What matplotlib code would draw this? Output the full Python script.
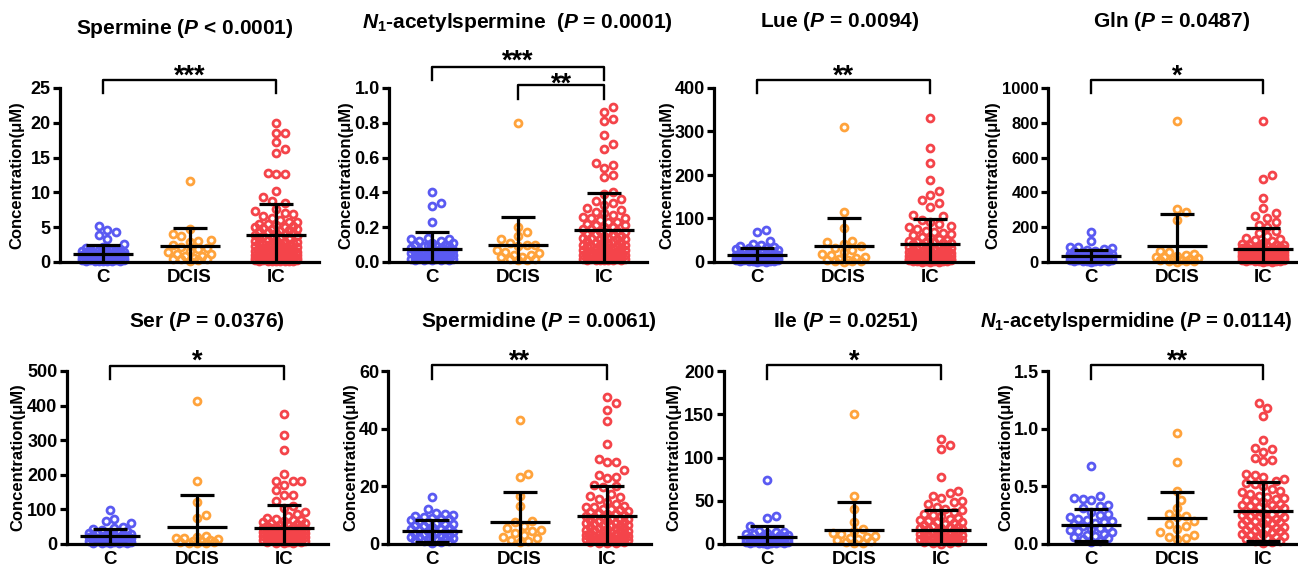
import numpy as np
import matplotlib.pyplot as plt

plt.rcParams['font.family'] = ['Liberation Sans', 'DejaVu Sans']
plt.rcParams['font.weight'] = 'bold'
plt.rcParams['mathtext.fontset'] = 'custom'
plt.rcParams['mathtext.rm'] = 'Liberation Sans:bold'
plt.rcParams['mathtext.it'] = 'Liberation Sans:italic:bold'
plt.rcParams['mathtext.bf'] = 'Liberation Sans:bold'

groups = ['C', 'DCIS', 'IC']
colors = ['#5a5af2', '#ffa33c', '#f4444a']

# ---- Spermine
spm_c = [5.2, 4.6, 4.3, 3.9, 3.3, 2.6, 2.2, 2.0, 1.9, 1.9, 1.8, 1.8, 1.7, 1.7, 1.6, 1.6, 1.5, 1.5, 1.4, 1.4,
         1.3, 1.3, 1.2, 1.2, 1.1, 1.1, 1.0, 1.0, 1.0, 0.9, 0.9, 0.9, 0.8, 0.8, 0.8, 0.7, 0.7, 0.7, 0.6, 0.6,
         0.6, 0.5, 0.5, 0.5, 0.5, 0.4, 0.4, 0.4, 0.4, 0.3, 0.3, 0.3, 0.3, 0.2, 0.2, 0.2, 0.2, 0.1, 0.1, 0.1]
spm_dcis = [11.6, 4.7, 4.0, 3.7, 3.1, 3.0, 2.9, 2.5, 2.2, 2.0, 1.8, 1.6, 1.4, 1.2, 1.1, 0.9, 0.8, 0.6, 0.5,
            0.4, 0.4, 0.3, 0.2]
spm_ic = [20.0, 18.6, 18.5, 17.2, 16.2, 15.7, 12.8, 12.7, 12.7, 10.2, 9.4, 8.7, 8.5, 7.6, 7.3, 7.1, 6.9, 6.6,
          6.3, 6.0, 5.8, 5.7, 5.5, 5.4, 5.3, 5.2, 5.1, 5.0, 4.9, 4.8, 4.7, 4.6, 4.5, 4.4, 4.3, 4.2, 4.1, 4.0,
          3.9, 3.8, 3.7, 3.6, 3.5, 3.4, 3.3, 3.2, 3.1, 3.0, 2.9, 2.9, 2.8, 2.7, 2.7, 2.6, 2.5, 2.5, 2.4, 2.3,
          2.3, 2.2, 2.1, 2.1, 2.0, 1.9, 1.9, 1.8, 1.8, 1.7, 1.7, 1.6, 1.6, 1.5, 1.5, 1.4, 1.4, 1.3, 1.3, 1.2,
          1.2, 1.1, 1.1, 1.0, 1.0, 1.0, 0.9, 0.9, 0.9, 0.8, 0.8, 0.8, 0.7, 0.7, 0.7, 0.6, 0.6, 0.6, 0.5, 0.5,
          0.5, 0.5, 0.4, 0.4, 0.4, 0.4, 0.3, 0.3, 0.3, 0.3, 0.2, 0.2, 0.2, 0.2, 0.1, 0.1, 0.1, 0.1]
spm_mean = [1.1, 2.3, 3.9]
spm_sd = [1.4, 2.6, 4.5]

# ---- N1-acetylspermine
nas_c = [0.40, 0.34, 0.32, 0.23, 0.14, 0.13, 0.13, 0.12, 0.12, 0.11, 0.11, 0.10, 0.10, 0.10, 0.09, 0.09,
         0.09, 0.08, 0.08, 0.08, 0.07, 0.07, 0.07, 0.06, 0.06, 0.06, 0.06, 0.05, 0.05, 0.05, 0.05, 0.04,
         0.04, 0.04, 0.04, 0.04, 0.03, 0.03, 0.03, 0.03, 0.03, 0.02, 0.02, 0.02, 0.02, 0.02, 0.02, 0.01,
         0.01, 0.01, 0.01, 0.01]
nas_dcis = [0.80, 0.20, 0.17, 0.15, 0.13, 0.11, 0.10, 0.10, 0.09, 0.07, 0.06, 0.05, 0.04, 0.04, 0.03, 0.03,
            0.02, 0.02, 0.01, 0.01]
nas_ic = [0.89, 0.86, 0.82, 0.81, 0.73, 0.68, 0.65, 0.57, 0.56, 0.54, 0.50, 0.49, 0.40, 0.39, 0.36, 0.35,
          0.34, 0.33, 0.31, 0.30, 0.29, 0.28, 0.27, 0.26, 0.25, 0.25, 0.24, 0.23, 0.23, 0.22, 0.21, 0.21,
          0.20, 0.20, 0.19, 0.19, 0.18, 0.18, 0.17, 0.17, 0.16, 0.16, 0.16, 0.15, 0.15, 0.14, 0.14, 0.14,
          0.13, 0.13, 0.13, 0.12, 0.12, 0.12, 0.11, 0.11, 0.11, 0.10, 0.10, 0.10, 0.09, 0.09, 0.09, 0.09,
          0.08, 0.08, 0.08, 0.08, 0.07, 0.07, 0.07, 0.07, 0.06, 0.06, 0.06, 0.06, 0.05, 0.05, 0.05, 0.05,
          0.05, 0.04, 0.04, 0.04, 0.04, 0.04, 0.03, 0.03, 0.03, 0.03, 0.03, 0.03, 0.02, 0.02, 0.02, 0.02,
          0.02, 0.02, 0.01, 0.01, 0.01, 0.01, 0.01, 0.01, 0.01]
nas_mean = [0.075, 0.10, 0.185]
nas_sd = [0.095, 0.16, 0.21]

# ---- Lue
lue_c = [73, 68, 48, 42, 40, 37, 35, 33, 32, 30, 29, 28, 26, 25, 24, 22, 21, 20, 19, 18, 17, 16, 16, 15, 14,
         13, 13, 12, 11, 11, 10, 10, 9, 9, 8, 8, 7, 7, 6, 6, 5, 5, 5, 4, 4, 4, 3, 3, 3, 2, 2, 2, 1, 1]
lue_dcis = [310, 114, 79, 48, 45, 42, 36, 33, 28, 22, 18, 15, 12, 9, 7, 5, 4, 3, 2, 2, 1]
lue_ic = [331, 263, 227, 188, 164, 154, 142, 136, 127, 108, 105, 97, 92, 88, 83, 80, 75, 72, 70, 67, 64, 61,
          58, 55, 52, 50, 48, 47, 46, 45, 44, 43, 41, 40, 39, 37, 36, 35, 34, 33, 32, 30, 29, 28, 27, 26, 25,
          24, 23, 22, 21, 20, 19, 18, 18, 17, 16, 16, 15, 14, 14, 13, 12, 12, 11, 11, 10, 10, 9, 9, 9, 8, 8,
          8, 7, 7, 7, 6, 6, 6, 5, 5, 5, 4, 4, 4, 3, 3, 3, 2, 2, 2, 1, 1, 1]
lue_mean = [17, 37, 41]
lue_sd = [16, 65, 57]

# ---- Gln
gln_c = [173, 121, 88, 85, 80, 76, 70, 66, 62, 58, 55, 52, 50, 48, 46, 44, 42, 40, 38, 36, 35, 33, 32, 30, 28,
         27, 25, 24, 22, 20, 19, 18, 16, 15, 14, 12, 11, 10, 9, 8, 7, 6, 5, 4, 3, 2]
gln_dcis = [813, 302, 285, 244, 62, 55, 48, 42, 35, 30, 26, 22, 18, 15, 12, 9, 7, 5, 3, 2]
gln_ic = [813, 500, 477, 369, 313, 283, 263, 255, 231, 215, 200, 180, 165, 150, 140, 132, 125, 118, 110, 105,
          100, 97, 95, 92, 90, 88, 86, 84, 82, 80, 78, 76, 74, 72, 70, 68, 66, 64, 62, 60, 58, 56, 55, 53, 52,
          50, 49, 47, 46, 44, 43, 41, 40, 38, 38, 36, 35, 34, 32, 31, 30, 28, 27, 26, 24, 23, 22, 20, 19, 18,
          16, 15, 14, 12, 11, 10, 9, 8, 7, 6, 5, 4, 3, 2, 1]
gln_mean = [33, 90, 77]
gln_sd = [36, 187, 119]

# ---- Ser
ser_c = [97, 71, 66, 61, 48, 45, 43, 40, 38, 36, 35, 33, 31, 30, 28, 27, 26, 24, 23, 22, 21, 20, 19, 18, 17,
         16, 15, 14, 13, 12, 11, 10, 10, 9, 8, 7, 6, 5, 5, 4, 3, 3, 2, 2]
ser_dcis = [413, 181, 120, 85, 74, 22, 20, 18, 16, 14, 12, 10, 8, 6, 5, 4, 3, 2]
ser_ic = [376, 316, 273, 203, 183, 182, 181, 170, 155, 142, 141, 125, 111, 105, 92, 88, 80, 75, 72, 70, 68,
          66, 64, 62, 60, 58, 56, 55, 53, 52, 50, 49, 47, 46, 45, 44, 42, 41, 40, 39, 38, 37, 36, 35, 34, 33,
          32, 31, 30, 29, 28, 27, 26, 25, 24, 23, 22, 21, 20, 19, 18, 17, 16, 15, 14, 13, 12, 11, 10, 9, 8,
          7, 6, 5, 4, 3, 2]
ser_mean = [22, 49, 47]
ser_sd = [21, 92, 66]

# ---- Spermidine
spd_c = [16.3, 12.3, 10.6, 10.3, 10.1, 9.7, 9.4, 9.1, 8.7, 8.5, 8.2, 7.9, 7.8, 7.4, 7.1, 6.9, 6.5, 6.2, 5.8,
         5.5, 5.3, 5.1, 4.7, 4.5, 4.3, 4.1, 3.8, 3.6, 3.4, 3.2, 3.0, 2.7, 2.5, 2.4, 2.2, 1.9, 1.7, 1.6, 1.4,
         1.1, 0.9, 0.6, 0.4]
spd_dcis = [43.0, 24.4, 23.4, 16.8, 13.3, 8.0, 7.6, 6.2, 5.4, 4.9, 4.5, 3.8, 3.1, 2.6, 2.1, 1.5, 1.1, 0.8]
spd_ic = [51.0, 48.9, 46.6, 42.8, 34.7, 29.5, 28.6, 28.4, 25.5, 23.8, 23.4, 23.0, 20.6, 20.0, 19.7, 17.2,
          16.8, 16.4, 15.5, 14.6, 13.8, 13.2, 12.9, 12.7, 12.3, 12.0, 11.8, 11.4, 11.1, 10.9, 10.5, 10.3,
          10.1, 9.7, 9.5, 9.3, 8.9, 8.7, 8.6, 8.2, 8.0, 7.9, 7.5, 7.3, 7.2, 6.9, 6.7, 6.6, 6.3, 6.1, 6.0,
          5.7, 5.5, 5.4, 5.1, 4.9, 4.8, 4.5, 4.4, 4.3, 4.0, 3.9, 3.8, 3.5, 3.4, 3.3, 3.0, 2.9, 2.8, 2.6,
          2.5, 2.4, 2.2, 2.1, 2.0, 1.8, 1.7, 1.6, 1.4, 1.3, 1.2, 1.0, 0.9, 0.8, 0.6, 0.5, 0.4, 0.3]
spd_mean = [4.6, 7.8, 9.8]
spd_sd = [3.8, 10.2, 10.3]

# ---- Ile
ile_c = [73.8, 32.7, 30.4, 20.8, 15.2, 14.1, 13.3, 12.5, 11.8, 11.2, 10.3, 9.9, 9.4, 8.6, 8.2, 7.9, 7.2, 6.9,
         6.6, 6.0, 5.7, 5.5, 5.0, 4.7, 4.5, 4.0, 3.8, 3.6, 3.2, 3.0, 2.8, 2.4, 2.2, 2.0, 1.7, 1.5, 1.4, 1.1,
         0.9, 0.8, 0.5]
ile_dcis = [150.8, 56.0, 40.0, 25.4, 17.0, 15.0, 13.0, 11.0, 9.0, 8.0, 6.5, 5.5, 4.5, 3.5, 2.5, 1.5, 1.0]
ile_ic = [121.5, 114.6, 110.0, 77.7, 61.0, 59.0, 55.0, 53.0, 50.0, 48.0, 46.0, 43.0, 41.0, 39.0, 37.0, 35.0,
          33.0, 32.0, 30.0, 29.0, 28.0, 27.0, 26.0, 25.0, 24.0, 23.0, 22.0, 21.0, 20.0, 19.5, 19.0, 18.0,
          17.5, 17.0, 16.0, 15.5, 15.0, 14.0, 13.5, 13.0, 12.0, 11.5, 11.0, 10.5, 10.0, 9.5, 9.0, 8.5, 8.0,
          7.5, 7.0, 6.5, 6.0, 5.5, 5.0, 4.5, 4.0, 3.5, 3.0, 2.5, 2.0, 1.5, 1.0, 0.5]
ile_mean = [8.5, 16, 16]
ile_sd = [12.5, 33, 23]

# ---- N1-acetylspermidine
nad_c = [0.68, 0.42, 0.40, 0.39, 0.38, 0.34, 0.33, 0.31, 0.28, 0.26, 0.25, 0.23, 0.22, 0.21, 0.20, 0.19,
         0.18, 0.17, 0.16, 0.15, 0.14, 0.13, 0.12, 0.11, 0.10, 0.09, 0.08, 0.07, 0.06, 0.05, 0.04, 0.03, 0.02]
nad_dcis = [0.966, 0.715, 0.456, 0.38, 0.31, 0.26, 0.24, 0.23, 0.20, 0.17, 0.16, 0.13, 0.10, 0.08, 0.06,
            0.05, 0.04]
nad_ic = [1.226, 1.18, 1.11, 0.90, 0.83, 0.82, 0.80, 0.75, 0.73, 0.72, 0.61, 0.60, 0.58, 0.56, 0.55, 0.53,
          0.52, 0.50, 0.48, 0.46, 0.45, 0.43, 0.42, 0.41, 0.40, 0.39, 0.38, 0.37, 0.36, 0.35, 0.34, 0.34,
          0.33, 0.32, 0.31, 0.30, 0.30, 0.29, 0.28, 0.27, 0.27, 0.26, 0.25, 0.24, 0.24, 0.23, 0.22, 0.21,
          0.21, 0.20, 0.19, 0.18, 0.18, 0.17, 0.16, 0.15, 0.15, 0.14, 0.13, 0.12, 0.12, 0.11, 0.10, 0.09,
          0.09, 0.08, 0.07, 0.06, 0.06, 0.05, 0.04, 0.03, 0.03, 0.02, 0.01]
nad_mean = [0.165, 0.225, 0.285]
nad_sd = [0.135, 0.23, 0.255]

titles = [r'Spermine ($\mathit{P}$ < 0.0001)',
          r'$\mathit{N}_1$-acetylspermine  ($\mathit{P}$ = 0.0001)',
          r'Lue ($\mathit{P}$ = 0.0094)',
          r'Gln ($\mathit{P}$ = 0.0487)',
          r'Ser ($\mathit{P}$ = 0.0376)',
          r'Spermidine ($\mathit{P}$ = 0.0061)',
          r'Ile ($\mathit{P}$ = 0.0251)',
          r'$\mathit{N}_1$-acetylspermidine ($\mathit{P}$ = 0.0114)']

W, H = 1298, 568

# layout in pixels: C centre, group spacing, axis top, axis bottom, title x, title baseline,
# title size, ylabel offset, ymax, ystep, tick format, tick size
layout = [
    (103, 86.5, 88, 262, 76, 34, 15, 35, 25, 5, '{:.0f}', 13),
    (432, 86.0, 88, 262, 362, 28, 15, 36, 1.0, 0.2, '{:.1f}', 13),
    (757, 86.5, 88, 262, 760, 27, 15, 39, 400, 100, '{:.0f}', 13),
    (1091, 86.0, 88, 262, 1093, 27, 15, 48, 1000, 200, '{:.0f}', 12),
    (110, 87.0, 371, 544, 129, 327, 15, 41, 500, 100, '{:.0f}', 13),
    (432, 87.5, 371, 544, 421, 327, 15, 30, 60, 20, '{:.0f}', 13),
    (767, 87.0, 371, 544, 773, 327, 15, 42, 200, 50, '{:.0f}', 13),
    (1091, 86.0, 371, 544, 980, 327, 14.5, 35, 1.5, 0.5, '{:.1f}', 13),
]

# brackets: (from, to, stars, px above top, leg px below top, star centre px above top)
brackets = [
    [(0, 2, '***', 8.5, 5, 19)],
    [(0, 2, '***', 21, -8, 34), (1, 2, '**', 3, 11, 11)],
    [(0, 2, '**', 8.5, 5, 19)],
    [(0, 2, '*', 8.5, 5, 19)],
    [(0, 2, '*', 5, 8, 17)],
    [(0, 2, '**', 6, 8, 17)],
    [(0, 2, '*', 6, 8, 17)],
    [(0, 2, '**', 6, 8, 17)],
]

data = [
    (spm_c, spm_dcis, spm_ic, spm_mean, spm_sd),
    (nas_c, nas_dcis, nas_ic, nas_mean, nas_sd),
    (lue_c, lue_dcis, lue_ic, lue_mean, lue_sd),
    (gln_c, gln_dcis, gln_ic, gln_mean, gln_sd),
    (ser_c, ser_dcis, ser_ic, ser_mean, ser_sd),
    (spd_c, spd_dcis, spd_ic, spd_mean, spd_sd),
    (ile_c, ile_dcis, ile_ic, ile_mean, ile_sd),
    (nad_c, nad_dcis, nad_ic, nad_mean, nad_sd),
]


def swarm(vals, ypx, xpx, diam=8.5, half=24.0):
    # spread points sideways (in pixels) so circles do not sit on top of each other
    vals = np.asarray(vals, float)
    order = np.argsort(vals)
    offs = [0.0]
    k = 1
    step = diam / 2
    while k * step <= half:
        offs += [k * step, -k * step]
        k += 1
    px, py = [], []
    xs = np.zeros(len(vals))
    for i in order:
        y = vals[i] * ypx
        best, bestd = 0.0, -1.0
        for o in offs:
            d = np.min(np.hypot(np.array(px) - o, np.array(py) - y)) if px else np.inf
            if d >= diam:
                best = o
                break
            if d > bestd:
                best, bestd = o, d
        xs[i] = best / xpx
        px.append(best)
        py.append(y)
    return xs


fig = plt.figure(figsize=(W / 100, H / 100), dpi=100)

for n in range(8):
    cx, sp, top, bot, tx, tb, tfs, yoff, ymax, ystep, fmt, tsize = layout[n]
    c_vals, d_vals, i_vals, means, sds = data[n]
    left = cx - 0.5 * sp
    width = 3 * sp
    ax = fig.add_axes([left / W, 1 - bot / H, width / W, (bot - top) / H])
    ax.set_xlim(-0.5, 2.5)
    ax.set_ylim(0, ymax)
    ypx = (bot - top) / ymax

    for g, vals in enumerate([c_vals, d_vals, i_vals]):
        xs = swarm(vals, ypx, sp)
        ax.plot(g + xs, vals, 'o', ms=5.0, mfc='none', mec=colors[g], mew=2.0,
                clip_on=False, zorder=2)
        m, s = means[g], sds[g]
        mw = 30 / sp
        cw = 17 / sp
        kw = dict(color='k', lw=2.3, solid_capstyle='butt', zorder=4)
        ax.plot([g - mw, g + mw], [m, m], **kw)
        ax.plot([g, g], [m - s, m + s], **kw)
        ax.plot([g - cw, g + cw], [m + s, m + s], **kw)
        ax.plot([g - cw, g + cw], [m - s, m - s], **kw)

    ax.spines['top'].set_visible(False)
    ax.spines['right'].set_visible(False)
    for sname in ['left', 'bottom']:
        ax.spines[sname].set_linewidth(2.3)
        ax.spines[sname].set_zorder(3)

    ticks = np.arange(0, ymax + ystep / 2, ystep)
    ax.set_yticks(ticks)
    ax.set_yticklabels([fmt.format(t) for t in ticks])
    ax.set_xticks([0, 1, 2])
    ax.set_xticklabels(groups)
    ax.tick_params(axis='y', direction='out', length=5, width=2.3, labelsize=tsize, pad=1.5)
    ax.tick_params(axis='x', length=0, labelsize=13.5, pad=5)

    ax.set_ylabel('Concentration(μM)', fontsize=12, fontweight='bold')
    ax.yaxis.set_label_coords(-yoff / width, 0.5)

    h = bot - top
    tr = ax.get_xaxis_transform()
    for (a, b, stars, up, leg, sc) in brackets[n]:
        yb = 1 + up / h
        yl = 1 - leg / h
        ax.plot([a, a, b, b], [yl, yb, yb, yl], color='k', lw=1.7, transform=tr, clip_on=False)
        ax.text((a + b) / 2, 1 + (sc - 15) / h, stars, transform=tr, ha='center', va='baseline',
                fontsize=19.5)

    fig.text(tx / W, 1 - tb / H, titles[n], fontsize=tfs, ha='left', va='baseline')

fig.savefig('out.png', dpi=100)
